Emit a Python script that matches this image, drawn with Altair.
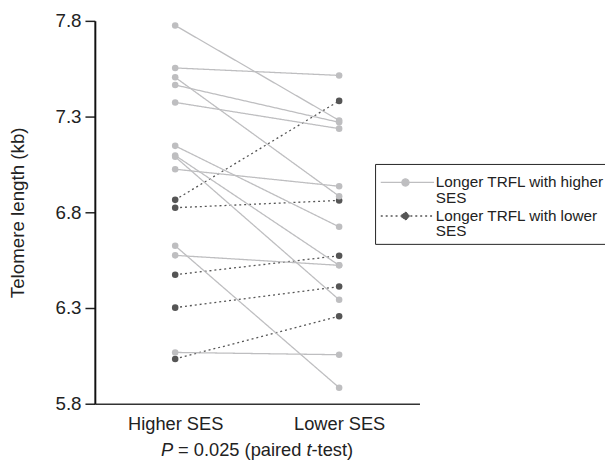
import altair as alt
import pandas as pd

# ---- data ----
conditions = ["Higher SES", "Lower SES"]
groups = ["Longer TRFL with higher SES", "Longer TRFL with lower SES"]

# pairs where telomere length is longer with higher SES (grey, solid)
grey_higher_ses = [7.776, 7.554, 7.505, 7.465, 7.374, 7.147, 7.097, 7.090, 7.025, 6.625, 6.575, 6.068]
grey_lower_ses = [7.280, 7.515, 6.884, 7.270, 7.237, 6.724, 6.523, 6.343, 6.936, 5.884, 6.523, 6.056]
# pairs where telomere length is longer with lower SES (dark, dotted)
dark_higher_ses = [6.865, 6.824, 6.474, 6.302, 6.034]
dark_lower_ses = [7.382, 6.862, 6.573, 6.412, 6.257]

y_ticks = [5.8, 6.3, 6.8, 7.3, 7.8]
caption_parts = ["P", "= 0.025 (paired", "t", "-test)"]

rows = []
pid = 0
for hs, ls in zip(dark_higher_ses, dark_lower_ses):
    rows.append({"pair": pid, "group": groups[1], "condition": conditions[0], "value": hs})
    rows.append({"pair": pid, "group": groups[1], "condition": conditions[1], "value": ls})
    pid += 1
for hs, ls in zip(grey_higher_ses, grey_lower_ses):
    rows.append({"pair": pid, "group": groups[0], "condition": conditions[0], "value": hs})
    rows.append({"pair": pid, "group": groups[0], "condition": conditions[1], "value": ls})
    pid += 1
df = pd.DataFrame(rows)

FONT = "Liberation Sans"
TXT = "#222222"
colors = ["#bebec0", "#555555"]

legend = alt.Legend(
    title=" ",
    titleFontSize=5,
    titlePadding=2,
    orient="none",
    legendX=284,
    legendY=145,
    symbolType="M-1,0H8M2.57,0A0.6,0.6 0 1,1 3.77,0A0.6,0.6 0 1,1 2.57,0Z",
    symbolSize=144,
    symbolStrokeWidth=1.3,
    symbolOpacity=1,
    labelExpr="[slice(datum.label, 0, lastindexof(datum.label, ' ')), slice(datum.label, lastindexof(datum.label, ' ') + 1)]",
    labelFont=FONT,
    labelFontSize=15.5,
    labelColor=TXT,
    labelLimit=400,
    labelOffset=42,
    labelBaseline="middle",
    strokeColor="#222222",
    padding=4,
    rowPadding=2,
)

x_enc = alt.X(
    "condition:N",
    sort=conditions,
    scale=alt.Scale(type="point", domain=conditions, padding=0.49),
    axis=alt.Axis(
        title=None, labelAngle=0, ticks=False, tickSize=0, labelPadding=11,
        labelFont=FONT, labelFontSize=18.5, labelColor=TXT,
        domainColor="#333333", domainWidth=1.6, grid=False,
    ),
)
y_enc = alt.Y(
    "value:Q",
    scale=alt.Scale(domain=[5.8, 7.8], nice=False, zero=False),
    axis=alt.Axis(
        values=y_ticks, format=".1f", title="Telomere length (kb)",
        titleFont=FONT, titleFontSize=19, titleFontWeight="normal", titleColor=TXT,
        titleAngle=270, titleX=-72, titleY=194, titleAlign="center", titleBaseline="alphabetic",
        labelFont=FONT, labelFontSize=19, labelColor=TXT, labelPadding=4,
        tickSize=10, tickWidth=1.5, tickColor="#222222",
        domainColor="#111111", domainWidth=2, grid=False,
    ),
)

lines = alt.Chart(df).mark_line(strokeWidth=1.3).encode(
    x=x_enc,
    y=y_enc,
    detail="pair:N",
    stroke=alt.Stroke("group:N", scale=alt.Scale(domain=groups, range=colors), legend=legend),
    strokeDash=alt.StrokeDash("group:N", scale=alt.Scale(domain=groups, range=[[1, 0], [2, 3]]), legend=legend),
)

points = alt.Chart(df).mark_circle(size=44, opacity=1).encode(
    x=x_enc,
    y=y_enc,
    fill=alt.Fill("group:N", scale=alt.Scale(domain=groups, range=colors), legend=legend),
)

cap_x = [67, 84.4, 214.4, 219.6]
cap_style = ["italic", "normal", "italic", "normal"]
caption_layers = []
for part, px, st in zip(caption_parts, cap_x, cap_style):
    caption_layers.append(
        alt.Chart(pd.DataFrame({"t": [part]})).mark_text(
            align="left", baseline="alphabetic", font=FONT, fontSize=18.5,
            fontStyle=st, color=TXT,
        ).encode(text="t:N", x=alt.value(px), y=alt.value(441))
    )

chart = alt.layer(lines, points, *caption_layers).properties(
    width=329,
    height=388,
    autosize=alt.AutoSizeParams(type="none"),
    padding={"left": 88, "top": 10, "right": 188, "bottom": 55},
).configure(
    background="white",
    style={"guide-label": {"lineHeight": 15.5}},
).configure_view(stroke=None)

chart.save("out.html", embed_options={"renderer": "svg", "actions": False})
